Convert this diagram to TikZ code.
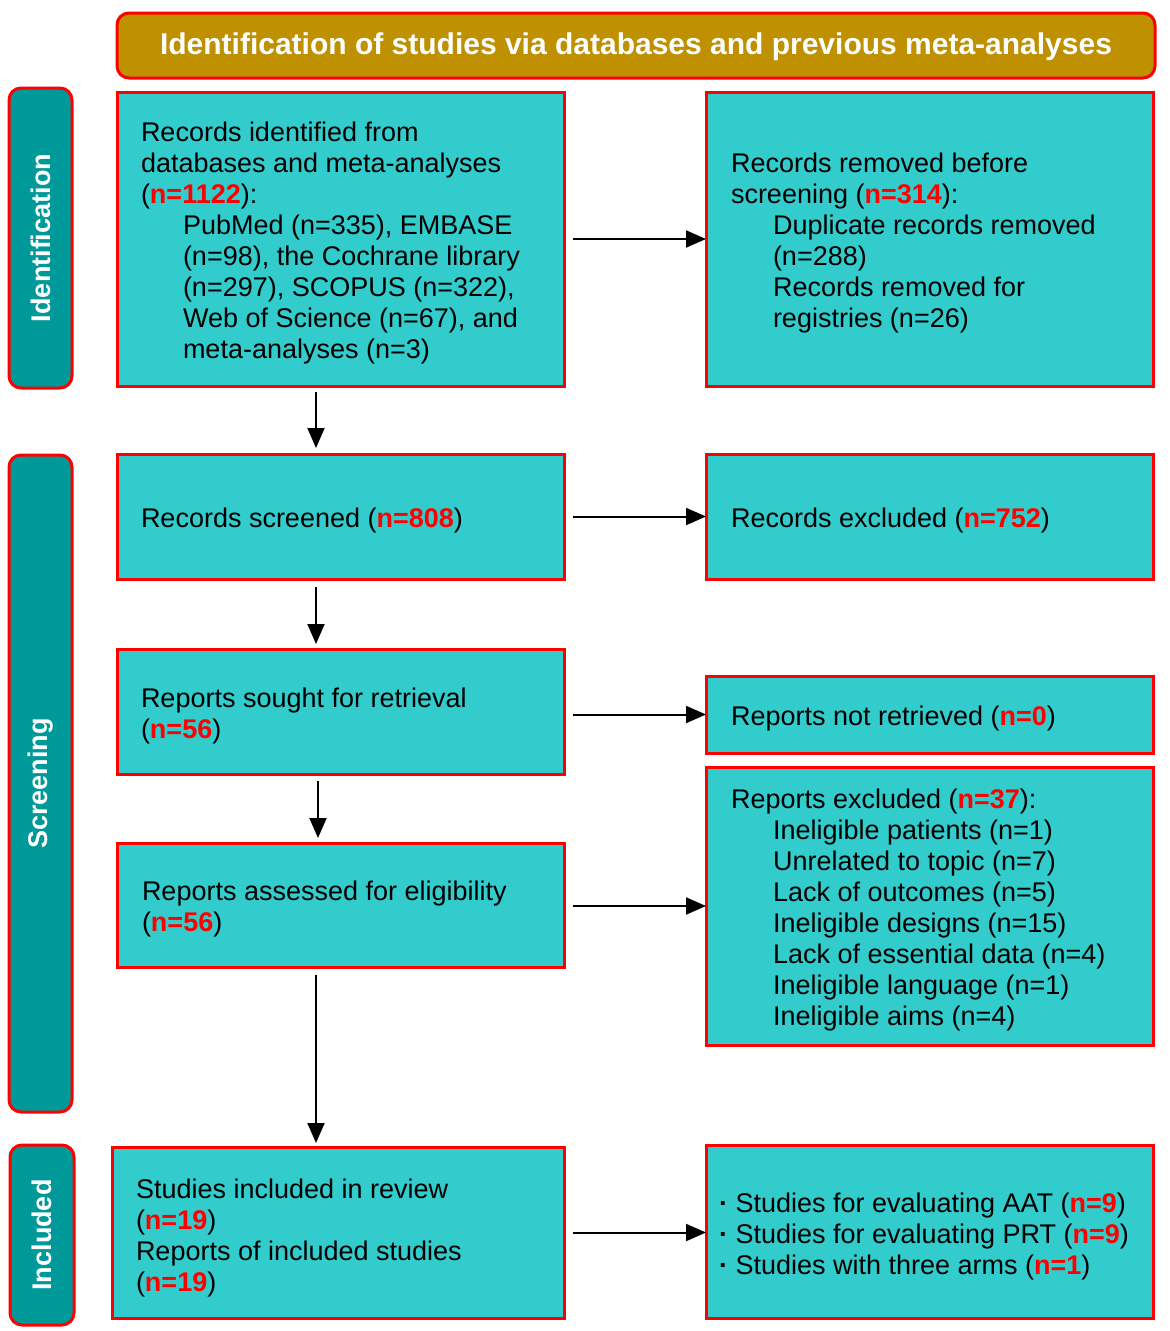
\documentclass[tikz,border=0pt]{standalone}
\usepackage{fontspec}
\setmainfont{Liberation Sans}
\usetikzlibrary{arrows.meta}
\definecolor{boxfill}{HTML}{33CCCC}
\definecolor{tabfill}{HTML}{009999}
\definecolor{goldbar}{HTML}{BF9000}
\definecolor{redline}{HTML}{FF0000}
\newcommand\nn[1]{{\bfseries\color{redline}#1}}
\newcommand\ind{\hspace*{42pt}}
\newcommand\fl{\rule{0pt}{22pt}}
\begin{document}
\begin{tikzpicture}[x=1pt,y=-1pt,
  box/.style={draw=redline, line width=3pt, fill=boxfill, rectangle, inner sep=0pt, outer sep=0pt, anchor=north west},
  tabbox/.style={draw=redline, line width=3pt, fill=tabfill, rectangle, rounded corners=12pt, inner sep=0pt, outer sep=0pt, anchor=north west},
  titlebox/.style={draw=redline, line width=3pt, fill=goldbar, rectangle, rounded corners=12pt, inner sep=0pt, outer sep=0pt, anchor=north west},
  txt/.style={anchor=north west, inner sep=0pt, outer sep=0pt, align=left, font=\fontsize{27}{31}\selectfont},
  tabtxt/.style={inner sep=0pt, text=white, rotate=90, font=\fontsize{27}{31}\selectfont\bfseries},
  arr/.style={line width=2pt, -{Triangle[length=20pt,width=17pt]}}
]
\useasboundingbox (0,0) rectangle (1170,1331);
\fill[white] (0,0) rectangle (1170,1331);

% title bar
\node[titlebox, minimum width=1038pt, minimum height=65pt] (title) at (117,13) {};
\node[inner sep=0pt, text=white, font=\fontsize{30}{34}\selectfont\bfseries] (titletxt) at ([yshift=-1.5pt]title.center) {Identification of studies via databases and previous meta-analyses};

% side tabs
\node[tabbox, minimum width=63pt, minimum height=300pt] (tabid) at (9,88) {};
\node[tabtxt] (tabidtxt) at (tabid.center) {Identification};
\node[tabbox, minimum width=63pt, minimum height=657pt] (tabsc) at (9,455) {};
\node[tabtxt] (tabsctxt) at (tabsc.center) {Screening};
\node[tabbox, minimum width=64pt, minimum height=180pt] (tabin) at (10,1145) {};
\node[tabtxt] (tabintxt) at (tabin.center) {Included};

% boxes
\node[box, minimum width=447pt, minimum height=294pt] (b1) at (117,92) {};
\node[box, minimum width=447pt, minimum height=294pt] (b2) at (706,92) {};
\node[box, minimum width=447pt, minimum height=125pt] (b3) at (117,454) {};
\node[box, minimum width=447pt, minimum height=125pt] (b4) at (706,454) {};
\node[box, minimum width=447pt, minimum height=125pt] (b5) at (117,649) {};
\node[box, minimum width=447pt, minimum height=77pt] (b6) at (706,676) {};
\node[box, minimum width=447pt, minimum height=124pt] (b7) at (117,843) {};
\node[box, minimum width=447pt, minimum height=278pt] (b8) at (706,767) {};
\node[box, minimum width=452pt, minimum height=171pt] (b9) at (112,1147) {};
\node[box, minimum width=447pt, minimum height=173pt] (b10) at (706,1145) {};

% texts
\node[txt] (t1) at (141,119) {\fl Records identified from\\databases and meta-analyses\\(\nn{n=1122}):\\
\ind PubMed (n=335), EMBASE\\\ind (n=98), the Cochrane library\\\ind (n=297), SCOPUS (n=322),\\\ind Web of Science (n=67), and\\\ind meta-analyses (n=3)};
\node[txt] (t2) at (731,150) {\fl Records removed before\\screening (\nn{n=314}):\\\ind Duplicate records removed\\\ind (n=288)\\\ind Records removed for\\\ind registries (n=26)};
\node[txt] (t3) at (141,505) {\fl Records screened (\nn{n=808})};
\node[txt] (t4) at (731,505) {\fl Records excluded (\nn{n=752})};
\node[txt] (t5) at (141,685) {\fl Reports sought for retrieval\\(\nn{n=56})};
\node[txt] (t6) at (731,703) {\fl Reports not retrieved (\nn{n=0})};
\node[txt] (t7) at (142,878) {\fl Reports assessed for eligibility\\(\nn{n=56})};
\node[txt] (t8) at (731,786) {\fl Reports excluded (\nn{n=37}):\\\ind Ineligible patients (n=1)\\\ind Unrelated to topic (n=7)\\\ind Lack of outcomes (n=5)\\\ind Ineligible designs (n=15)\\\ind Lack of essential data (n=4)\\\ind Ineligible language (n=1)\\\ind Ineligible aims (n=4)};
\node[txt] (t9) at (136,1176) {\fl Studies included in review\\(\nn{n=19})\\Reports of included studies\\(\nn{n=19})};
\node[txt] (t10) at (719,1190) {\fl {\bfseries·} Studies for evaluating AAT (\nn{n=9})\\{\bfseries·} Studies for evaluating PRT (\nn{n=9})\\{\bfseries·} Studies with three arms (\nn{n=1})};

% arrows
\coordinate (ax) at (316,0);
\coordinate (axb) at (318,0);
\draw[arr, shorten <=6pt, shorten >=6pt] (b1.south -| ax) -- (b3.north -| ax);
\draw[arr, shorten <=8pt, shorten >=5pt] (b3.south -| ax) -- (b5.north -| ax);
\draw[arr, shorten <=7pt, shorten >=5pt] (b5.south -| axb) -- (b7.north -| axb);
\draw[arr, shorten <=8pt, shorten >=4pt] (b7.south -| ax) -- (b9.north -| ax);

\draw[arr, shorten <=9pt] (b1.east) -- (b2.west);
\draw[arr, shorten <=9pt] (b3.east) -- (b4.west);
\draw[arr, shorten <=9pt] (b5.east |- b6.west) -- (b6.west);
\draw[arr, shorten <=9pt] (b7.east |- b8.west) -- (b8.west);
\draw[arr, shorten <=9pt] (b9.east) -- (b9.east -| b10.west);
\end{tikzpicture}
\end{document}
